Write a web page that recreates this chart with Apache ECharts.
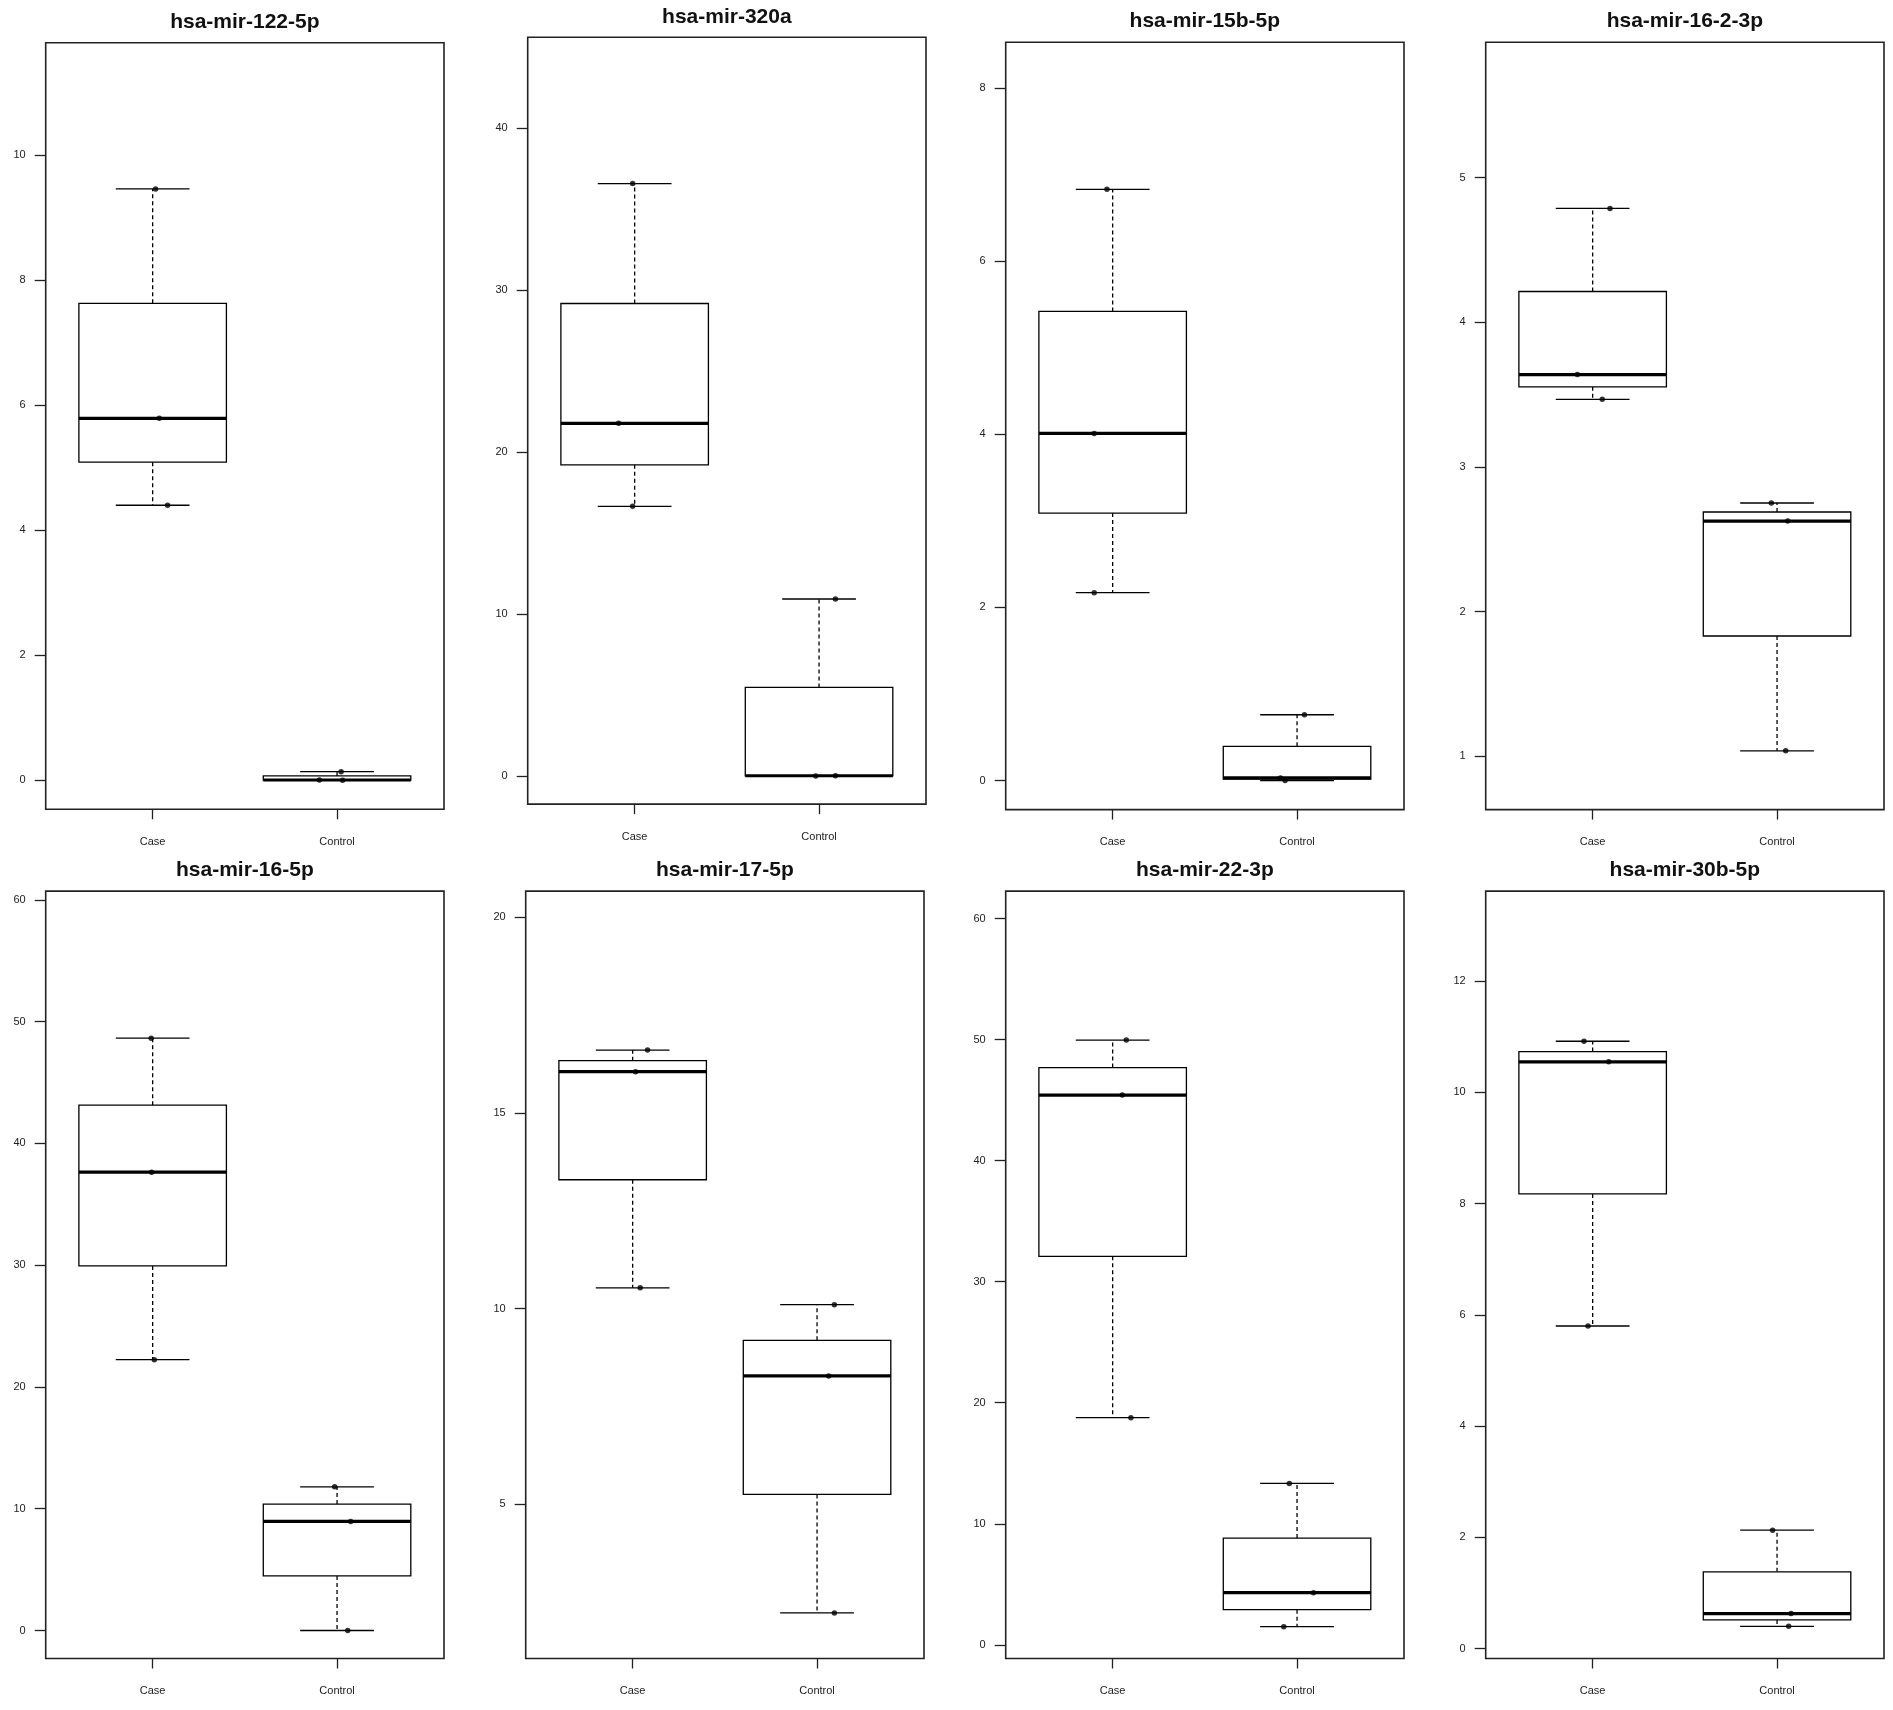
<!DOCTYPE html>
<html>
<head>
<meta charset="utf-8">
<title>miRNA boxplots</title>
<script src="https://cdn.jsdelivr.net/npm/echarts@6/dist/echarts.min.js"></script>
<style>
  html, body { margin: 0; padding: 0; background: #fff; }
  #main { width: 1893px; height: 1710px; }
</style>
</head>
<body>
<div id="main"></div>
<script>
// 每个面板的标题
const titles = ['hsa-mir-122-5p', 'hsa-mir-320a', 'hsa-mir-15b-5p', 'hsa-mir-16-2-3p',
                'hsa-mir-16-5p', 'hsa-mir-17-5p', 'hsa-mir-22-3p', 'hsa-mir-30b-5p']
const categories = ['Case', 'Control']

// y 轴范围和刻度
const yMin = [-0.464, -1.73, -0.336, 0.632, -2.30, 1.066, -1.13, -0.178]
const yMax = [11.80, 45.6, 8.53, 5.936, 60.72, 20.66, 62.27, 13.62]
const yTicks = [
  [0, 2, 4, 6, 8, 10],
  [0, 10, 20, 30, 40],
  [0, 2, 4, 6, 8],
  [1, 2, 3, 4, 5],
  [0, 10, 20, 30, 40, 50, 60],
  [5, 10, 15, 20],
  [0, 10, 20, 30, 40, 50, 60],
  [0, 2, 4, 6, 8, 10, 12]
]

// 箱线图: [min, Q1, median, Q3, max]
const caseBox = [
  [4.40, 5.09, 5.79, 7.63, 9.46],
  [16.65, 19.21, 21.77, 29.17, 36.57],
  [2.17, 3.09, 4.01, 5.42, 6.83],
  [3.468, 3.554, 3.639, 4.213, 4.787],
  [22.24, 29.94, 37.64, 43.14, 48.64],
  [10.53, 13.29, 16.05, 16.33, 16.60],
  [18.77, 32.1, 45.42, 47.69, 49.96],
  [5.80, 8.175, 10.55, 10.735, 10.92]
]
const ctrlBox = [
  [0.0, 0.003, 0.005, 0.07, 0.138],
  [0.0, 0.01, 0.02, 5.47, 10.93],
  [0.0, 0.015, 0.03, 0.395, 0.76],
  [1.038, 1.832, 2.626, 2.689, 2.751],
  [0.0, 4.48, 8.96, 10.38, 11.80],
  [2.23, 5.255, 8.28, 9.19, 10.10],
  [1.50, 2.9, 4.31, 8.82, 13.33],
  [0.40, 0.515, 0.63, 1.38, 2.13]
]

// 原始样本点 和 水平抖动
const casePts = [
  [4.40, 5.79, 9.46], [16.65, 21.77, 36.57], [2.17, 4.01, 6.83], [3.468, 3.639, 4.787],
  [22.24, 37.64, 48.64], [10.53, 16.05, 16.60], [18.77, 45.42, 49.96], [5.80, 10.55, 10.92]
]
const caseJit = [
  [0.081, 0.036, 0.016], [-0.011, -0.087, -0.011], [-0.10, -0.10, -0.031], [0.052, -0.083, 0.094],
  [0.009, -0.006, -0.008], [0.041, 0.016, 0.081], [0.099, 0.052, 0.074], [-0.025, 0.087, -0.047]
]
const ctrlPts = [
  [0.0, 0.005, 0.138], [0.0, 0.02, 10.93], [0.0, 0.03, 0.76], [1.038, 2.626, 2.751],
  [0.0, 8.96, 11.80], [2.23, 8.28, 10.10], [1.50, 4.31, 13.33], [0.40, 0.63, 2.13]
]
const ctrlJit = [
  [0.03, -0.096, 0.022], [-0.018, 0.089, 0.089], [-0.065, -0.09, 0.04], [0.047, 0.058, -0.031],
  [0.058, 0.074, -0.013], [0.094, 0.063, 0.094], [-0.072, 0.089, -0.042], [0.063, 0.076, -0.024]
]

// 面板位置 (px)
const panelLeft = [45.7, 527.7, 1005.7, 1485.7, 45.7, 525.7, 1005.7, 1485.7]
const panelTop = [42.7, 37.3, 42.2, 42.2, 891.1, 891.1, 891.1, 891.1]
const panelBottom = [809.3, 804.1, 809.6, 809.6, 1658.5, 1658.5, 1658.5, 1658.5]
const panelWidth = 398.3
const titleY = [23, 18, 22, 22, 870.8, 870.8, 870.8, 870.8]

const FONT = '"Liberation Sans", Arial, sans-serif'

const renderBox = (params, api) => {
  const x = api.value(0)
  const mn = api.value(1), q1 = api.value(2), md = api.value(3), q3 = api.value(4), mx = api.value(5)
  const hw = 0.4, sw = 0.2
  const tl = api.coord([x - hw, q3])
  const br = api.coord([x + hw, q1])
  const line = (a, b, style) => ({
    type: 'line',
    shape: { x1: a[0], y1: a[1], x2: b[0], y2: b[1] },
    style: Object.assign({ stroke: '#000', lineWidth: 1.3 }, style)
  })
  const dash = { lineDash: [4, 3] }
  return {
    type: 'group',
    children: [
      line(api.coord([x, q3]), api.coord([x, mx]), dash),
      line(api.coord([x, q1]), api.coord([x, mn]), dash),
      line(api.coord([x - sw, mx]), api.coord([x + sw, mx])),
      line(api.coord([x - sw, mn]), api.coord([x + sw, mn])),
      {
        type: 'rect',
        shape: { x: tl[0], y: tl[1], width: br[0] - tl[0], height: br[1] - tl[1] },
        style: { fill: '#fff', stroke: '#000', lineWidth: 1.3 }
      },
      line(api.coord([x - hw, md]), api.coord([x + hw, md]), { lineWidth: 3.2 })
    ]
  }
}

const grid = [], xAxis = [], yAxis = [], title = [], series = []

titles.forEach((name, i) => {
  grid.push({
    left: panelLeft[i], top: panelTop[i], width: panelWidth,
    height: panelBottom[i] - panelTop[i],
    show: true, borderColor: '#222', borderWidth: 1.6, backgroundColor: 'transparent'
  })
  title.push({
    text: name,
    left: panelLeft[i] + panelWidth / 2,
    top: titleY[i] - 11,
    textAlign: 'center',
    padding: 0,
    textStyle: { fontFamily: FONT, fontSize: 21, fontWeight: 'bold', color: '#111' }
  })
  xAxis.push({
    type: 'value', gridIndex: i, min: 0.42, max: 2.58, position: 'bottom',
    axisLine: { show: false, onZero: false },
    splitLine: { show: false },
    axisTick: { show: true, length: 10, customValues: [1, 2], lineStyle: { color: '#222', width: 1.3 } },
    axisLabel: {
      show: true, margin: 27, customValues: [1, 2],
      formatter: v => categories[Math.round(v) - 1],
      fontFamily: FONT, fontSize: 11, color: '#222'
    }
  })
  yAxis.push({
    type: 'value', gridIndex: i, min: yMin[i], max: yMax[i], position: 'left',
    axisLine: { show: false, onZero: false },
    splitLine: { show: false },
    axisTick: { show: true, length: 11, customValues: yTicks[i], lineStyle: { color: '#222', width: 1.3 } },
    axisLabel: {
      show: true, margin: 20, customValues: yTicks[i],
      fontFamily: FONT, fontSize: 11, color: '#222'
    }
  })
  series.push({
    type: 'custom',
    xAxisIndex: i, yAxisIndex: i,
    renderItem: renderBox,
    encode: { x: 0, y: [1, 2, 3, 4, 5] },
    data: [[1].concat(caseBox[i]), [2].concat(ctrlBox[i])],
    z: 2
  })
  const pts = casePts[i].map((v, k) => [1 + caseJit[i][k], v])
    .concat(ctrlPts[i].map((v, k) => [2 + ctrlJit[i][k], v]))
  series.push({
    type: 'scatter',
    xAxisIndex: i, yAxisIndex: i,
    symbol: 'circle', symbolSize: 5.5,
    itemStyle: { color: '#000' },
    data: pts,
    z: 3
  })
})

const chart = echarts.init(document.getElementById('main'), null, { renderer: 'canvas' })
chart.setOption({
  animation: false,
  backgroundColor: '#fff',
  title, grid, xAxis, yAxis, series
})
</script>
</body>
</html>
